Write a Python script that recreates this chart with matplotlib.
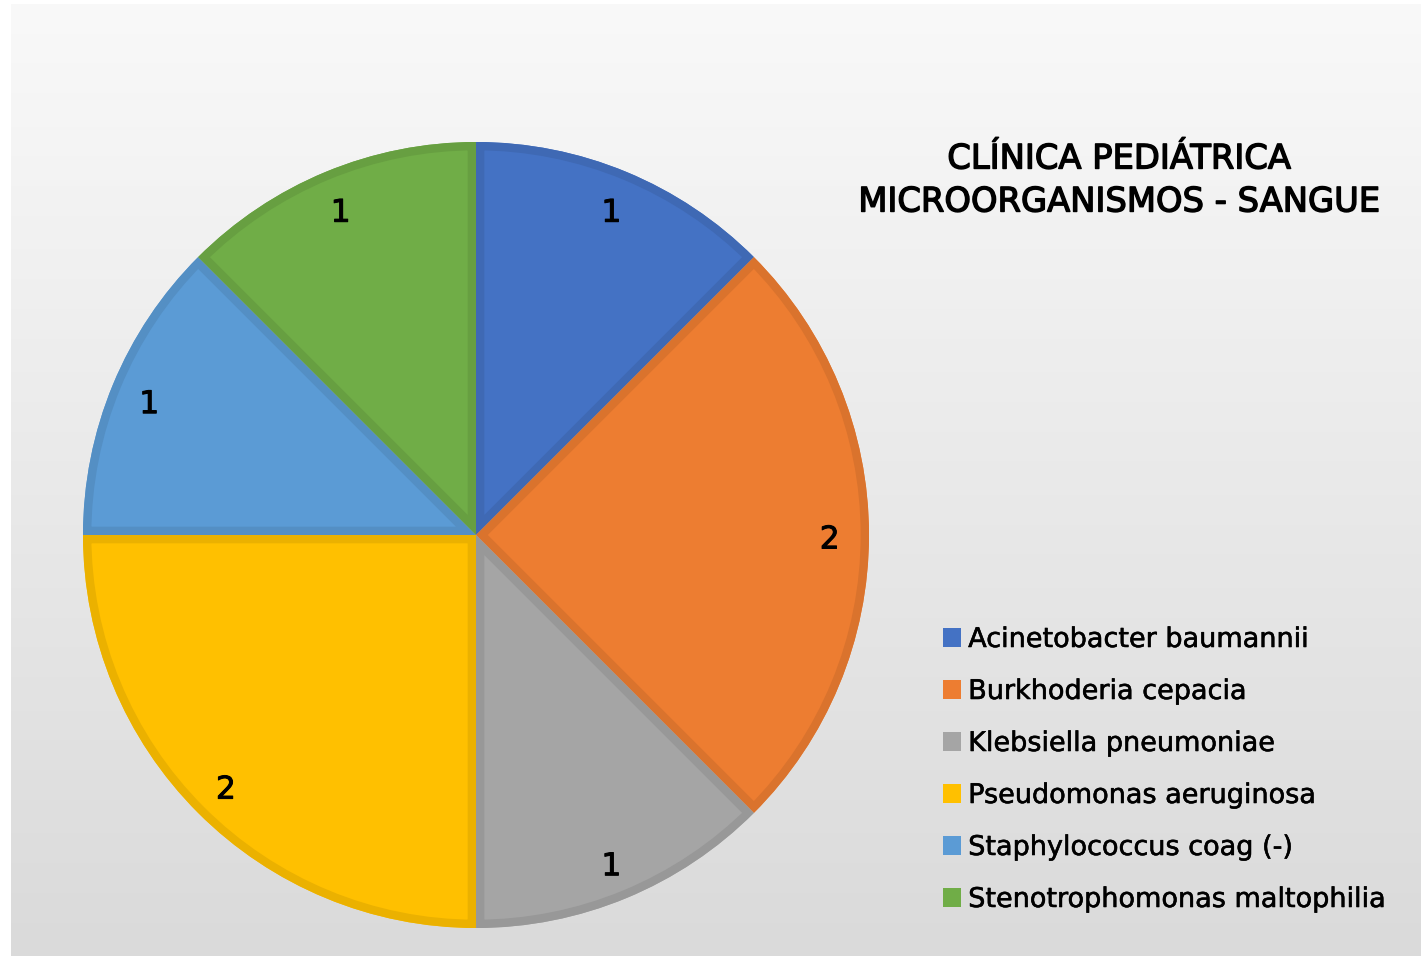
import numpy as np
import matplotlib
matplotlib.use("Agg")
import matplotlib.pyplot as plt
from matplotlib.patches import Patch, Wedge
from matplotlib import colors as mcolors
from matplotlib import patheffects as pe
from matplotlib.transforms import offset_copy

# ---- data ----
categories = ["Acinetobacter baumannii", "Burkhoderia cepacia", "Klebsiella pneumoniae",
              "Pseudomonas aeruginosa", "Staphylococcus coag (-)", "Stenotrophomonas maltophilia"]
values = [1, 2, 1, 2, 1, 1]
slice_colors = ["#4472C4", "#ED7D31", "#A5A5A5", "#FFC000", "#5B9BD5", "#70AD47"]
title_lines = ["CLÍNICA PEDIÁTRICA", "MICROORGANISMOS - SANGUE"]

W, H = 1421, 956
fig = plt.figure(figsize=(W / 100, H / 100), dpi=100, facecolor="white")

# background gradient
bg = fig.add_axes([11 / W, 0, 1 - 11 / W, (H - 4) / H])
grad = np.linspace(0.976, 0.855, 256).reshape(-1, 1)
bg.imshow(np.dstack([grad, grad, grad]), aspect="auto", extent=[0, 1, 0, 1], origin="upper")
bg.set_axis_off()

# pie
cx, cy, r = 476, H - 535, 393
ax = fig.add_axes([(cx - r) / W, (cy - r) / H, 2 * r / W, 2 * r / H])
ax.set_facecolor("none")

def darker(c, f=0.92):
    return tuple(np.array(mcolors.to_rgb(c)) * f)

thick = [pe.withStroke(linewidth=0.7, foreground="black")]
wedges, texts = ax.pie(values, colors=slice_colors, startangle=90, counterclock=False,
                       labels=[str(v) for v in values], labeldistance=0.9,
                       textprops=dict(fontsize=22.5, color="black"),
                       wedgeprops=dict(linewidth=0))
for w, c in zip(wedges, slice_colors):
    ol = Wedge(w.center, w.r, w.theta1, w.theta2, facecolor="none",
               edgecolor=darker(c), linewidth=12)
    ax.add_patch(ol)
    ol.set_clip_path(w)
for t in texts:
    t.set_ha("center")
    t.set_va("center")
    t.set_transform(offset_copy(t.get_transform(), fig=fig, x=0, y=-5, units="dots"))
    t.set_path_effects(thick)
ax.set_xlim(-1, 1)
ax.set_ylim(-1, 1)
ax.set_aspect("equal")
ax.axis("off")

# title
for i, line in enumerate(title_lines):
    fig.text(1119 / W, 1 - (159 + 43 * i) / H, line, ha="center", va="center",
             fontsize=24.3, family="DejaVu Sans",
             path_effects=[pe.withStroke(linewidth=1.0, foreground="black")])

# legend
handles = [Patch(facecolor=c, edgecolor="none") for c in slice_colors]
leg = fig.legend(handles, categories, loc="upper left", bbox_to_anchor=(943 / W, 1 - 627 / H),
                 frameon=False, handlelength=0.68, handleheight=0.68,
                 handletextpad=0.25, labelspacing=0.96, borderpad=0, borderaxespad=0,
                 prop=dict(family="DejaVu Sans", size=19.5))
for t in leg.get_texts():
    t.set_path_effects([pe.withStroke(linewidth=0.4, foreground="black")])

fig.savefig("out.png", dpi=100, facecolor="white")
